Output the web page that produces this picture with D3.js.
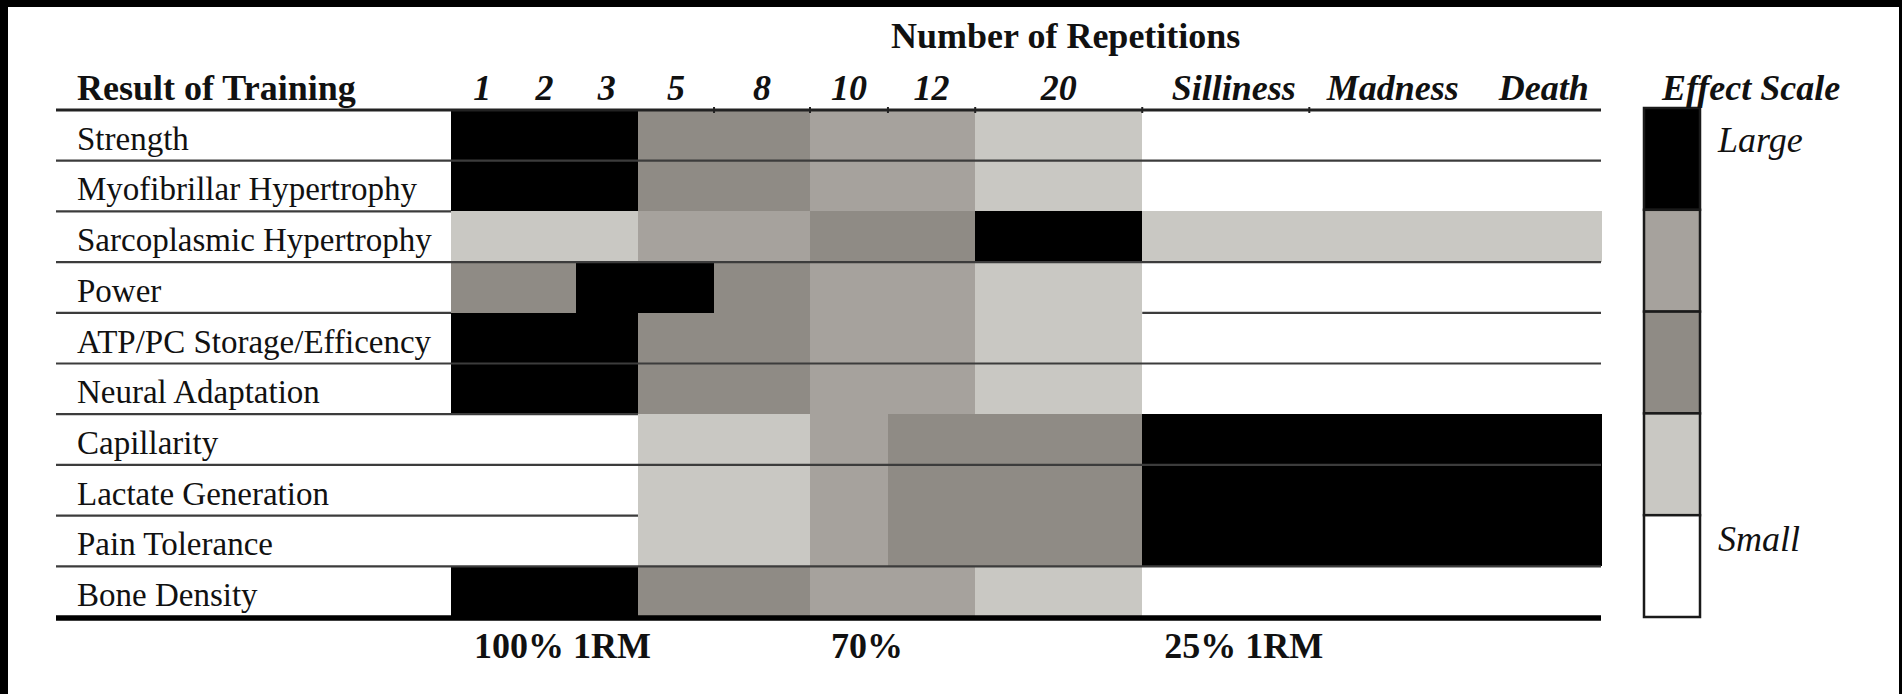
<!DOCTYPE html>
<html>
<head>
<meta charset="utf-8">
<script src="https://cdn.jsdelivr.net/npm/d3@7/dist/d3.min.js"></script>
<style>
  html, body { margin: 0; padding: 0; background: #000; overflow: hidden; }
  svg { display: block; }
  text { font-family: "Liberation Serif", "Times New Roman", serif; fill: #111; }
</style>
</head>
<body>
<div id="chart"></div>
<script>
// ---- data ----
const rowLabels = [
    "Strength",
    "Myofibrillar Hypertrophy",
    "Sarcoplasmic Hypertrophy",
    "Power",
    "ATP/PC Storage/Efficency",
    "Neural Adaptation",
    "Capillarity",
    "Lactate Generation",
    "Pain Tolerance",
    "Bone Density"
];
const repColumns = ["1", "2", "3", "5", "8", "10", "12", "20", "Silliness", "Madness", "Death"];

// effect level per row / column (4 = Large ... 0 = Small), as in the legend
const strengthRow    = [4, 4, 4, 2, 2, 3, 3, 1, 0, 0, 0];
const myofibrilRow   = [4, 4, 4, 2, 2, 3, 3, 1, 0, 0, 0];
const sarcoplasmRow  = [1, 1, 1, 3, 3, 2, 2, 4, 1, 1, 1];
const powerRow       = [2, 2, 4, 4, 2, 3, 3, 1, 0, 0, 0];
const atpRow         = [4, 4, 4, 2, 2, 3, 3, 1, 0, 0, 0];
const neuralRow      = [4, 4, 4, 2, 2, 3, 3, 1, 0, 0, 0];
const capillarityRow = [0, 0, 0, 1, 1, 3, 2, 2, 4, 4, 4];
const lactateRow     = [0, 0, 0, 1, 1, 3, 2, 2, 4, 4, 4];
const painRow        = [0, 0, 0, 1, 1, 3, 2, 2, 4, 4, 4];
const boneRow        = [4, 4, 4, 2, 2, 3, 3, 1, 0, 0, 0];
const effectValues = [strengthRow, myofibrilRow, sarcoplasmRow, powerRow, atpRow,
    neuralRow, capillarityRow, lactateRow, painRow, boneRow];

const effectLevels = [4, 3, 2, 1, 0];           // legend, top to bottom
const legendLabels = ["Large", "", "", "", "Small"];
const bottomLabels = ["100% 1RM", "70%", "25% 1RM"];
const bottomLabelColumns = ["2", "10", "Silliness"];

// ---- layout ----
const width = 1902;
const height = 694;
const columnUnits = [1, 1, 1, 1.22, 1.54, 1.25, 1.4, 2.68, 2.68, 2.68, 2];
const levelColors = ["#000000", "#a6a29d", "#8f8b85", "#c9c8c3", "#ffffff"];

// rules that only show in the label column (cells cover them in the scan)
const ruleBreaks = [
    { below: "Myofibrillar Hypertrophy", from: "1", to: "Death" },
    { below: "Power", from: "1", to: "20" },
    { below: "Neural Adaptation", from: "5", to: "Death" },
    { below: "Lactate Generation", from: "5", to: "Death" }
];

const svg = d3.select("#chart")
.append("svg")
.attr("width", width)
.attr("height", height);

// black scan frame with white page inside
svg.append("rect").attr("width", width).attr("height", height).attr("fill", "#000");
svg.append("rect")
.attr("x", 8).attr("y", 7)
.attr("width", width - 8 - 3).attr("height", height - 7)
.attr("fill", "#fff");

// scales
const edges = [0, ...d3.cumsum(columnUnits)];
const x = d3.scaleLinear().domain([0, d3.sum(columnUnits)]).range([451, 1601]);
const colLeft = (c) => x(edges[repColumns.indexOf(c)]);
const colRight = (c) => x(edges[repColumns.indexOf(c) + 1]);
const colMid = (c) => (colLeft(c) + colRight(c)) / 2;

const y = d3.scaleBand().domain(rowLabels).range([110, 617]);
const color = d3.scaleOrdinal().domain(effectLevels).range(levelColors);

// cells
const cells = [];
rowLabels.forEach((r, i) => {
    repColumns.forEach((c, j) => cells.push({ row: r, col: c, value: effectValues[i][j] }));
});

svg.append("g")
.selectAll("rect")
.data(cells)
.join("rect")
.attr("x", (d) => colLeft(d.col))
.attr("y", (d) => y(d.row))
.attr("width", (d) => colRight(d.col) - colLeft(d.col) + 0.5)
.attr("height", y.bandwidth() + 0.5)
.attr("fill", (d) => color(d.value))
.attr("shape-rendering", "crispEdges");

// row rules, split into segments where the scan hides them
const tableLeft = 56;
const tableRight = x.range()[1];
const ruleSegments = [];
rowLabels.slice(0, -1).forEach((r) => {
    const yy = y(r) + y.bandwidth();
    const gap = ruleBreaks.find((b) => b.below === r);
    if (!gap) {
        ruleSegments.push({ y: yy, x1: tableLeft, x2: tableRight });
    } else {
        ruleSegments.push({ y: yy, x1: tableLeft, x2: colLeft(gap.from) });
        if (colRight(gap.to) < tableRight) {
            ruleSegments.push({ y: yy, x1: colRight(gap.to), x2: tableRight });
        }
    }
});

svg.append("g")
.selectAll("line")
.data(ruleSegments)
.join("line")
.attr("x1", (d) => d.x1)
.attr("x2", (d) => d.x2)
.attr("y1", (d) => d.y)
.attr("y2", (d) => d.y)
.attr("stroke", "#3c3c3c")
.attr("stroke-width", 2.2);

// header rule and bottom rule
svg.append("line")
.attr("x1", tableLeft).attr("x2", tableRight)
.attr("y1", y.range()[0]).attr("y2", y.range()[0])
.attr("stroke", "#222").attr("stroke-width", 3);
svg.append("line")
.attr("x1", tableLeft).attr("x2", tableRight)
.attr("y1", y.range()[1] + 1).attr("y2", y.range()[1] + 1)
.attr("stroke", "#000").attr("stroke-width", 5.5);

// little ticks at column breaks on the header rule
svg.append("g")
.selectAll("line")
.data(repColumns.slice(3, 9))
.join("line")
.attr("x1", (d) => colRight(d))
.attr("x2", (d) => colRight(d))
.attr("y1", y.range()[0] - 3)
.attr("y2", y.range()[0] + 3)
.attr("stroke", "#222")
.attr("stroke-width", 2);

// row labels
svg.append("g")
.selectAll("text")
.data(rowLabels)
.join("text")
.attr("x", 77)
.attr("y", (d) => y(d) + y.bandwidth() - 11)
.style("font-size", "33px")
.text((d) => d);

// header texts
svg.append("text")
.attr("x", 77)
.attr("y", 100)
.style("font-size", "36px")
.style("font-weight", "bold")
.text("Result of Training");

svg.append("text")
.attr("x", colMid("20") + 7)
.attr("y", 48)
.attr("text-anchor", "middle")
.style("font-size", "36px")
.style("font-weight", "bold")
.text("Number of Repetitions");

svg.append("g")
.selectAll("text")
.data(repColumns)
.join("text")
.attr("x", (d) => colMid(d) + (d === "Death" ? 5 : d === "Silliness" ? 8 : 0))
.attr("y", 100)
.attr("text-anchor", "middle")
.style("font-size", "36px")
.style("font-weight", "bold")
.style("font-style", "italic")
.text((d) => d);

// bottom %1RM labels
svg.append("g")
.selectAll("text")
.data(bottomLabels)
.join("text")
.attr("x", (d, i) => colMid(bottomLabelColumns[i]) + 18)
.attr("y", 658)
.attr("text-anchor", "middle")
.style("font-size", "36px")
.style("font-weight", "bold")
.text((d) => d);

// ---- legend ----
const legendX = 1644;
const legendW = 56;
const ly = d3.scaleBand().domain(effectLevels).range([108, 617]);

const legend = svg.append("g");
legend.selectAll("rect")
.data(effectLevels)
.join("rect")
.attr("x", legendX)
.attr("y", (d) => ly(d))
.attr("width", legendW)
.attr("height", ly.bandwidth())
.attr("fill", (d) => color(d))
.attr("stroke", "#1a1a1a")
.attr("stroke-width", 2.5);

legend.selectAll("text")
.data(effectLevels)
.join("text")
.attr("x", legendX + legendW + 18)
.attr("y", (d, i) => ly(d) + (i === 0 ? 44 : 36))
.style("font-size", "36px")
.style("font-style", "italic")
.text((d, i) => legendLabels[i]);

svg.append("text")
.attr("x", 1662)
.attr("y", 100)
.style("font-size", "36px")
.style("font-weight", "bold")
.style("font-style", "italic")
.text("Effect Scale");
</script>
</body>
</html>
